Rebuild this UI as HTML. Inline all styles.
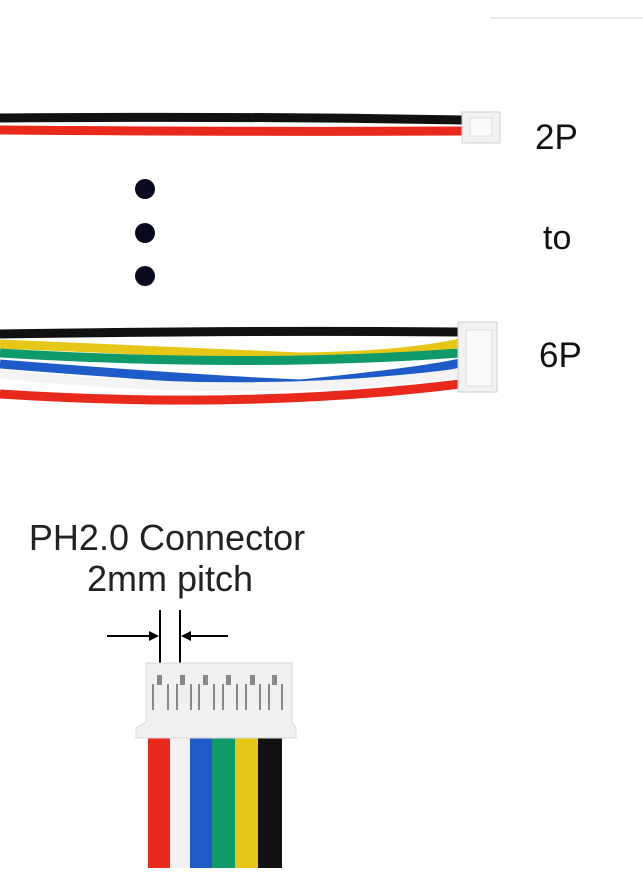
<!DOCTYPE html>
<html><head><style>body{margin:0;background:#fff}svg{display:block}</style></head><body>
<svg width="643" height="879" viewBox="0 0 643 879" xmlns="http://www.w3.org/2000/svg" font-family="Liberation Sans, sans-serif">
<line x1="490" y1="18" x2="643" y2="18" stroke="#e6e6e6" stroke-width="1.5"/>
<!-- 2P -->
<path d="M0 118 Q250 116 464 120" stroke="#111" stroke-width="9" fill="none"/>
<path d="M0 130 Q250 132 464 131" stroke="#e8291c" stroke-width="9" fill="none"/>
<rect x="462" y="112" width="38" height="31" fill="#f2f2f2" stroke="#cfcfcf"/>
<rect x="470" y="118" width="22" height="18" fill="#fafafa" stroke="#ddd"/>
<text x="535" y="149" font-size="35" fill="#111">2P</text>
<circle cx="145" cy="189" r="10" fill="#0a0a1e"/>
<circle cx="145" cy="233" r="10" fill="#0a0a1e"/>
<circle cx="145" cy="276" r="10" fill="#0a0a1e"/>
<text x="543" y="249" font-size="34" fill="#111">to</text>
<!-- 6P -->
<path d="M0 334 Q250 330 460 332" stroke="#111" stroke-width="9" fill="none"/>
<path d="M0 344 Q200 352 300 357 Q400 356 460 343" stroke="#e6c718" stroke-width="9" fill="none"/>
<path d="M0 353 Q250 368 460 353" stroke="#0f9a6a" stroke-width="9" fill="none"/>
<path d="M0 364 Q200 380 300 384 Q420 372 460 363" stroke="#1e5bc8" stroke-width="9" fill="none"/>
<path d="M0 374 Q250 400 460 373" stroke="#f4f4f4" stroke-width="9" fill="none"/>
<path d="M0 394 Q250 410 460 384" stroke="#e8291c" stroke-width="9" fill="none"/>
<rect x="458" y="322" width="39" height="70" fill="#f2f2f2" stroke="#cfcfcf"/>
<rect x="466" y="330" width="26" height="56" fill="#fafafa" stroke="#ddd"/>
<text x="539" y="367" font-size="35" fill="#111">6P</text>
<!-- bottom -->
<text x="167" y="550" font-size="36" fill="#222" text-anchor="middle">PH2.0 Connector</text>
<text x="170" y="591" font-size="36" fill="#222" text-anchor="middle">2mm pitch</text>
<line x1="160" y1="610" x2="160" y2="665" stroke="#000" stroke-width="2"/>
<line x1="180" y1="610" x2="180" y2="665" stroke="#000" stroke-width="2"/>
<line x1="107" y1="636" x2="150" y2="636" stroke="#000" stroke-width="2"/>
<polygon points="159,636 149,631 149,641" fill="#000"/>
<line x1="190" y1="636" x2="228" y2="636" stroke="#000" stroke-width="2"/>
<polygon points="181,636 191,631 191,641" fill="#000"/>
<rect x="148" y="738" width="22" height="130" fill="#e8291c"/>
<rect x="170" y="738" width="20" height="130" fill="#f2f2f2"/>
<rect x="190" y="738" width="22" height="130" fill="#1e5bc8"/>
<rect x="212" y="738" width="23" height="130" fill="#0f9a6a"/>
<rect x="235" y="738" width="23" height="130" fill="#e6c718"/>
<rect x="258" y="738" width="24" height="130" fill="#111"/>
<path d="M146 663 H292 V722 L296 728 V738 H136 V728 L146 722 Z" fill="#f0f0f0" stroke="#d8d8d8"/>
<g fill="#888">
<rect x="152" y="684" width="2" height="26"/><rect x="167" y="684" width="2" height="26"/>
<rect x="176" y="684" width="2" height="26"/><rect x="190" y="684" width="2" height="26"/>
<rect x="198" y="684" width="2" height="26"/><rect x="213" y="684" width="2" height="26"/>
<rect x="222" y="684" width="2" height="26"/><rect x="236" y="684" width="2" height="26"/>
<rect x="245" y="684" width="2" height="26"/><rect x="259" y="684" width="2" height="26"/>
<rect x="268" y="684" width="2" height="26"/><rect x="281" y="684" width="2" height="26"/>
<rect x="157" y="675" width="5" height="10"/><rect x="180" y="675" width="5" height="10"/>
<rect x="203" y="675" width="5" height="10"/><rect x="226" y="675" width="5" height="10"/>
<rect x="250" y="675" width="5" height="10"/><rect x="272" y="675" width="5" height="10"/>
</g>
</svg>
</body></html>
